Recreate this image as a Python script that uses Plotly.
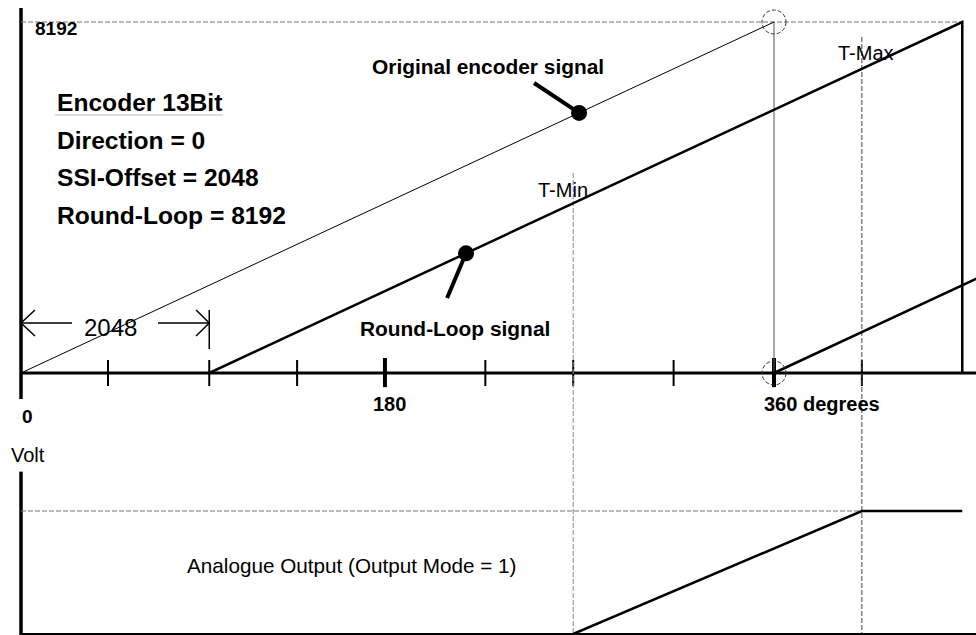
import plotly.graph_objects as go

# ---------------- data (x in degrees, top y in encoder counts, bottom y in volts) -------------
orig_x = [0, 360]
orig_y = [0, 8192]

roundloop_x = [90, 450, 450]
roundloop_y = [0, 8192, 0]
roundloop2_x = [360, 460]
roundloop2_y = [0, 2276]

minor_ticks = [41.6, 90, 132, 222, 264, 312, 402]
major_ticks = [174, 360]

t_min = 264
t_max = 402
t_min_top = 4668
t_max_top = 7842

analog_x = [264, 402, 450]
analog_v = [0, 10, 10]

dots_x = [266.8, 212.75]
dots_y = [6071, 2793]
leader_end_x = [245.3, 203.7]
leader_end_y = [6768, 1750]

FONT = "Liberation Sans, Arial, sans-serif"

# axis ranges (plot area = whole page)
X_RANGE = [-10.04, 456.57]
Y_RANGE = [-6115, 8705.5]
V_RANGE = [-0.0813, 51.545]

fig = go.Figure()


def line(x, y, width=1, color="black", dash=None, yaxis="y"):
    fig.add_trace(go.Scatter(x=x, y=y, mode="lines", yaxis=yaxis,
                             line=dict(color=color, width=width, dash=dash),
                             hoverinfo="skip", showlegend=False))


# top chart axes
line([0, 0], [8519, -607], width=3.5)
line([0, X_RANGE[1] + 5], [0, 0], width=3)
# dashed max line
line([0, 450], [8192, 8192], width=1, color="#777", dash="5px,2px")

# ticks
tx, ty = [], []
for t in minor_ticks:
    tx += [t, t, None]
    ty += [303, -303, None]
line(tx, ty, width=2)
tx, ty = [], []
for t in major_ticks:
    tx += [t, t, None]
    ty += [350, -330, None]
line(tx, ty, width=4)

# thin vertical at 360
line([360, 360], [0, 8192], width=1, color="#555")

# T-Min / T-Max verticals (run into lower chart)
line([t_min, t_min], [t_min_top, Y_RANGE[0]], width=1, color="#888", dash="5px,2px")
line([t_max, t_max], [t_max_top, Y_RANGE[0]], width=1, color="#444", dash="5px,2px")

# signals
line(orig_x, orig_y, width=1)
line(roundloop_x, roundloop_y, width=2.5)
line(roundloop2_x, roundloop2_y, width=2.5)

# leaders + dots
for dx, dy, ex, ey in zip(dots_x, dots_y, leader_end_x, leader_end_y):
    line([ex, dx], [ey, dy], width=4)
fig.add_trace(go.Scatter(x=dots_x, y=dots_y, mode="markers",
                         marker=dict(size=16, color="black"),
                         hoverinfo="skip", showlegend=False))

# dimension "2048"
line([0, 24.4], [1167, 1167], width=1.5)
line([65.5, 90], [1167, 1167], width=1.5)
line([6.7, 0, 6.7], [1470, 1167, 863], width=1.5)
line([83.7, 90, 83.7], [1470, 1167, 863], width=1.5)
line([90, 90], [1470, 560], width=1.5)

# underline of title
line([16.25, 96.6], [6021, 6021], width=1, color="#bbb")

# lower chart (volts)
line([0, 0], [13.2, -1], width=3.5, yaxis="y2")
line([0, X_RANGE[1] + 5], [0, 0], width=2, yaxis="y2")
line([0, t_max], [10, 10], width=1, color="#777", dash="5px,2px", yaxis="y2")
line(analog_x, analog_v, width=2.5, yaxis="y2")

# dashed circles at 360
for cy in [8192, 0]:
    fig.add_shape(type="circle", xref="x", yref="y", xsizemode="pixel", ysizemode="pixel",
                  xanchor=360, yanchor=cy, x0=-12, x1=12, y0=-12, y1=12,
                  line=dict(color="#333", width=1, dash="4px,2px"))


def text(s, x, y, size=20, bold=False, xanchor="center", yref="y"):
    fig.add_annotation(x=x, y=y, xref="x", yref=yref, text=f"<b>{s}</b>" if bold else s,
                       showarrow=False, xanchor=xanchor, yanchor="middle",
                       font=dict(family=FONT, size=size, color="black"))


text("8192", 5.74, 8052, size=19, bold=True, xanchor="left")
text("Encoder 13Bit", 16.25, 6302, size=24.6, bold=True, xanchor="left")
text("Direction = 0", 16.25, 5415, size=24.6, bold=True, xanchor="left")
text("SSI-Offset = 2048", 16.25, 4563, size=24.6, bold=True, xanchor="left")
text("Round-Loop = 8192", 16.25, 3687, size=24.6, bold=True, xanchor="left")
text("Original encoder signal", 223.5, 7165, size=20.9, bold=True)
text("Round-Loop signal", 207.7, 1027, size=20.9, bold=True)
text("T-Min", 258.9, 4271)
text("T-Max", 404, 7468)
text("2048", 42.8, 1062, size=24)
text("0", 2.9, -1004, size=19, bold=True)
text("180", 176, -723, bold=True)
text("360 degrees", 354.1, -723, bold=True, xanchor="left")
text("Volt", -5.7, 14.55, xanchor="left", yref="y2")
text("Analogue Output (Output Mode = 1)", 78.4, 5.53, size=20.7, xanchor="left", yref="y2")

fig.update_layout(
    width=976, height=635,
    margin=dict(l=0, r=0, t=0, b=0),
    paper_bgcolor="white", plot_bgcolor="white",
    xaxis=dict(range=X_RANGE, visible=False, domain=[0, 1]),
    yaxis=dict(range=Y_RANGE, visible=False, domain=[0, 1]),
    yaxis2=dict(range=V_RANGE, visible=False, overlaying="y"),
    showlegend=False,
)

fig.write_html("out.html", config={"displayModeBar": False},
               post_script="document.body.style.margin='0';document.body.style.overflow='hidden';")
